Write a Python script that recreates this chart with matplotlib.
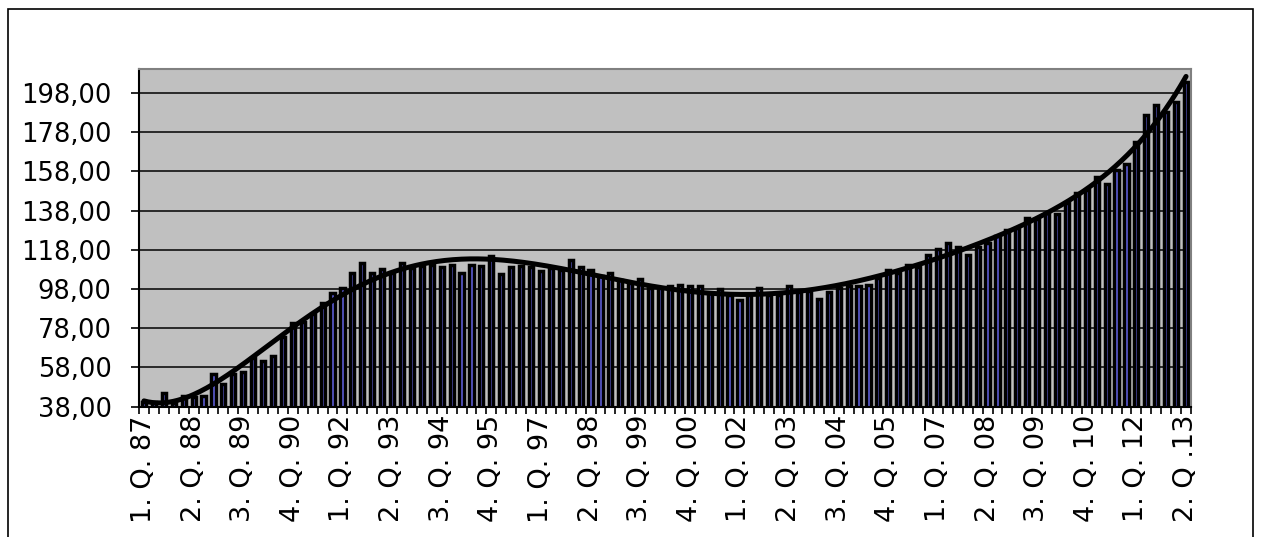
import numpy as np
import matplotlib
matplotlib.use("Agg")
import matplotlib.pyplot as plt
from matplotlib.patches import Rectangle

# Quarterly index values, 1st quarter 1987 through 2nd quarter 2013
values_87_93 = [40.5, 40.5, 44.8, 40.0, 43.5, 43.0, 43.5, 54.7, 49.6, 54.8,
                55.8, 63.0, 61.3, 64.0, 73.7, 80.8, 81.3, 85.2, 90.7, 95.8,
                98.3, 106.3, 111.4, 106.3, 108.0, 106.3, 111.2]
values_93_00 = [108.7, 109.8, 110.4, 109.0, 110.4, 106.1, 110.4, 109.5, 114.9,
                105.6, 109.2, 109.8, 109.2, 107.0, 108.7, 107.8, 112.6, 109.0,
                107.5, 104.4, 106.1, 102.7, 101.0, 103.0, 98.5, 98.5]
values_00_07 = [99.7, 100.0, 99.7, 99.4, 96.0, 98.0, 95.0, 92.4, 95.0, 98.5,
                95.0, 95.0, 99.4, 96.3, 97.2, 92.9, 96.3, 98.3, 99.7, 99.4,
                100.2, 103.4, 107.9, 106.2, 110.2, 109.0, 115.5]
values_07_13 = [118.2, 121.6, 119.5, 115.3, 119.2, 121.2, 125.0, 128.0, 128.9,
                134.0, 133.5, 136.5, 136.2, 141.6, 146.7, 148.4, 155.2, 151.5,
                158.6, 161.7, 173.0, 186.6, 191.7, 188.0, 193.4, 203.6]
values = values_87_93 + values_93_00 + values_00_07 + values_07_13

# Every fifth quarter carries a label
tick_labels = ["1. Q. 87", "2. Q. 88", "3. Q. 89", "4. Q. 90", "1. Q. 92",
               "2. Q. 93", "3. Q. 94", "4. Q. 95", "1. Q. 97", "2. Q. 98",
               "3. Q. 99", "4. Q. 00", "1. Q. 02", "2. Q. 03", "3. Q. 04",
               "4. Q. 05", "1. Q. 07", "2. Q. 08", "3. Q. 09", "4. Q. 10",
               "1. Q. 12", "2. Q .13"]
label_step = 5
y_ticks = [38, 58, 78, 98, 118, 138, 158, 178, 198]
y_max = 210

W, H = 1261, 537
fig = plt.figure(figsize=(W / 100, H / 100), dpi=100)
fig.patch.set_facecolor("white")

left, right, top, bottom = 139, 1191, 69.3, 406.7
ax = fig.add_axes([left / W, 1 - bottom / H, (right - left) / W, (bottom - top) / H])
ax.set_facecolor("#C0C0C0")

x = np.arange(len(values))
ax.bar(x, values, width=0.42, color="#6464E6", edgecolor="black",
       linewidth=2.5, zorder=2)

# 6th-order polynomial trend line over the series
trend = np.polynomial.Polynomial.fit(x + 1, values, 6)
xs = np.linspace(1, len(values), 500)
ax.plot(xs - 1, trend(xs), color="black", lw=3.6, zorder=3,
        solid_capstyle="round")

ax.set_xlim(-0.5, len(values) - 0.5)
ax.set_ylim(y_ticks[0], y_max)

ax.set_yticks(y_ticks)
ax.set_yticklabels([f"{v:.2f}".replace(".", ",") for v in y_ticks],
                   fontsize=18.5, family="DejaVu Sans")
ax.yaxis.grid(True, color="#1e1e1e", lw=1.3, zorder=1)
ax.set_axisbelow(True)
ax.tick_params(axis="y", direction="out", length=5.8, width=1.2, pad=14,
               color="black")

# tick marks on category boundaries, labels under every fifth category
ax.set_xticks(np.arange(-0.5, len(values) + 0.5, 1.0))
ax.set_xticklabels([])
ax.tick_params(axis="x", which="major", direction="out", length=5.0,
               width=1.2, color="black")
ax.set_xticks(x[::label_step], minor=True)
ax.set_xticklabels(tick_labels, minor=True, rotation=90, fontsize=19.5,
                   family="DejaVu Sans", va="top", ha="center")
ax.tick_params(axis="x", which="minor", length=0, pad=6)

for side in ("top", "right"):
    ax.spines[side].set_color("#808080")
    ax.spines[side].set_linewidth(1.5)
for side in ("left", "bottom"):
    ax.spines[side].set_color("black")
    ax.spines[side].set_linewidth(1.5)

# outer chart frame
fig.add_artist(Rectangle((7.5 / W, -0.05), (1253 - 7.5) / W, 1.05 - 8.5 / H,
                         transform=fig.transFigure, fill=False,
                         edgecolor="black", lw=1.2))

fig.savefig("out.png", dpi=100)
